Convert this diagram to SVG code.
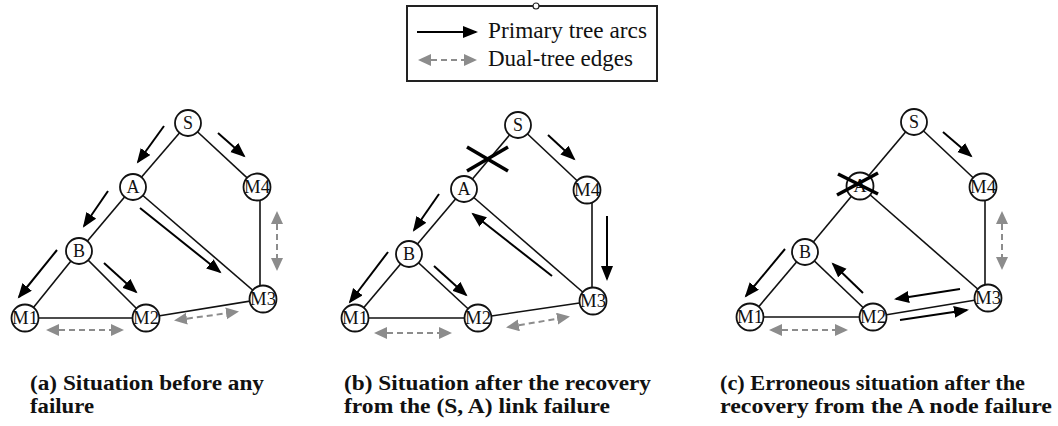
<svg xmlns="http://www.w3.org/2000/svg" width="1058" height="426" viewBox="0 0 1058 426">
<style>
.edge{stroke:#111;stroke-width:1.6;fill:none}
.node circle{fill:#fff;stroke:#111;stroke-width:1.8}
.node text{font-family:"Liberation Serif","Times New Roman",serif;font-size:18px;fill:#111;text-anchor:middle}
.arc{stroke:#000;stroke-width:2;fill:none;marker-end:url(#ah)}
.dual{stroke:#8c8c8c;stroke-width:2;stroke-dasharray:6 4;fill:none;marker-start:url(#gh);marker-end:url(#gh)}
.cross{stroke:#000;stroke-width:3.5;stroke-linecap:butt}
.cap{font-family:"Liberation Serif","Times New Roman",serif;font-weight:bold;font-size:20px;fill:#111}
.leg{font-family:"Liberation Serif","Times New Roman",serif;font-size:23px;fill:#111}
</style>
<defs>
<marker id="ah" markerUnits="userSpaceOnUse" markerWidth="16" markerHeight="13" refX="13" refY="6" orient="auto">
<path d="M0,0 L15,6 L0,12 z" fill="#000"/>
</marker>
<marker id="gh" markerUnits="userSpaceOnUse" markerWidth="14" markerHeight="13" refX="10" refY="6" orient="auto-start-reverse">
<path d="M0,0 L13,6 L0,12 z" fill="#8c8c8c"/>
</marker>
</defs>
<rect width="1058" height="426" fill="#fff"/>

<g id="legend">
<rect x="407" y="6" width="250" height="75" fill="#fff" stroke="#222" stroke-width="2"/>
<circle cx="536" cy="6" r="3" fill="#fff" stroke="#222" stroke-width="1.2"/>
<line class="arc" x1="417" y1="32" x2="476" y2="32"/>
<line class="dual" x1="421" y1="60" x2="474" y2="60"/>
<text class="leg" x="488" y="38" textLength="159" lengthAdjust="spacingAndGlyphs">Primary tree arcs</text>
<text class="leg" x="488" y="66" textLength="145" lengthAdjust="spacingAndGlyphs">Dual-tree edges</text>
</g>

<g id="connectors">
<!-- panel a edges -->
<line class="edge" x1="188" y1="123" x2="133" y2="187"/>
<line class="edge" x1="188" y1="123" x2="257" y2="187"/>
<line class="edge" x1="133" y1="187" x2="79" y2="251"/>
<line class="edge" x1="133" y1="187" x2="263" y2="299"/>
<line class="edge" x1="260" y1="190" x2="260" y2="299"/>
<line class="edge" x1="79" y1="251" x2="25" y2="318"/>
<line class="edge" x1="79" y1="251" x2="146" y2="318"/>
<line class="edge" x1="25" y1="318" x2="146" y2="318"/>
<line class="edge" x1="146" y1="318" x2="263" y2="299"/>
<!-- panel a arcs -->
<line class="arc" x1="164" y1="126" x2="138" y2="162"/>
<line class="arc" x1="218" y1="133" x2="244" y2="156"/>
<line class="arc" x1="108" y1="191" x2="84" y2="226"/>
<line class="arc" x1="140" y1="208" x2="220" y2="272"/>
<line class="arc" x1="57" y1="250" x2="19" y2="297"/>
<line class="arc" x1="104" y1="263" x2="136" y2="292"/>
<line class="dual" x1="49" y1="330" x2="121" y2="330"/>
<line class="dual" x1="177" y1="320" x2="236" y2="312"/>
<line class="dual" x1="277" y1="214" x2="277" y2="268"/>

<!-- panel b edges -->
<line class="edge" x1="518" y1="125" x2="464" y2="189"/>
<line class="edge" x1="518" y1="125" x2="587" y2="190"/>
<line class="edge" x1="464" y1="189" x2="409" y2="254"/>
<line class="edge" x1="464" y1="189" x2="593" y2="301"/>
<line class="edge" x1="592" y1="192" x2="592" y2="301"/>
<line class="edge" x1="409" y1="254" x2="355" y2="318"/>
<line class="edge" x1="409" y1="254" x2="478" y2="318"/>
<line class="edge" x1="355" y1="318" x2="478" y2="318"/>
<line class="edge" x1="478" y1="318" x2="593" y2="301"/>
<!-- panel b arcs -->
<line class="arc" x1="548" y1="135" x2="574" y2="159"/>
<line class="arc" x1="439" y1="194" x2="414" y2="230"/>
<line class="arc" x1="552" y1="276" x2="473" y2="214"/>
<line class="arc" x1="607" y1="216" x2="607" y2="279"/>
<line class="arc" x1="388" y1="252" x2="350" y2="302"/>
<line class="arc" x1="434" y1="266" x2="466" y2="295"/>
<line class="dual" x1="377" y1="333" x2="449" y2="333"/>
<line class="dual" x1="509" y1="327" x2="567" y2="317"/>

<!-- panel c edges -->
<line class="edge" x1="914" y1="122" x2="860" y2="186"/>
<line class="edge" x1="914" y1="122" x2="983" y2="187"/>
<line class="edge" x1="860" y1="186" x2="805" y2="252"/>
<line class="edge" x1="860" y1="186" x2="988" y2="298"/>
<line class="edge" x1="985" y1="189" x2="985" y2="298"/>
<line class="edge" x1="805" y1="252" x2="750" y2="317"/>
<line class="edge" x1="805" y1="252" x2="873" y2="317"/>
<line class="edge" x1="750" y1="317" x2="873" y2="317"/>
<line class="edge" x1="873" y1="317" x2="988" y2="298"/>
<!-- panel c arcs -->
<line class="arc" x1="943" y1="132" x2="971" y2="156"/>
<line class="arc" x1="785" y1="249" x2="746" y2="296"/>
<line class="arc" x1="863" y1="293" x2="833" y2="264"/>
<line class="arc" x1="960" y1="289" x2="896" y2="299"/>
<line class="arc" x1="900" y1="320" x2="967" y2="310"/>
<line class="dual" x1="1002" y1="214" x2="1002" y2="267"/>
<line class="dual" x1="772" y1="330" x2="845" y2="330"/>
</g>

<!-- panel a nodes -->
<g id="a-S" class="node"><circle cx="188" cy="123" r="13"/><text x="188" y="129">S</text></g>
<g id="a-A" class="node"><circle cx="133" cy="187" r="13"/><text x="133" y="193">A</text></g>
<g id="a-M4" class="node"><circle cx="257" cy="187" r="13.5"/><text x="257" y="193" textLength="26" lengthAdjust="spacingAndGlyphs">M4</text></g>
<g id="a-B" class="node"><circle cx="79" cy="251" r="13"/><text x="79" y="257">B</text></g>
<g id="a-M1" class="node"><circle cx="25" cy="318" r="13.5"/><text x="25" y="324" textLength="26" lengthAdjust="spacingAndGlyphs">M1</text></g>
<g id="a-M2" class="node"><circle cx="146" cy="318" r="13.5"/><text x="146" y="324" textLength="26" lengthAdjust="spacingAndGlyphs">M2</text></g>
<g id="a-M3" class="node"><circle cx="263" cy="299" r="13.5"/><text x="263" y="305" textLength="26" lengthAdjust="spacingAndGlyphs">M3</text></g>

<!-- panel b nodes -->
<g id="b-S" class="node"><circle cx="518" cy="125" r="13"/><text x="518" y="131">S</text></g>
<g id="b-A" class="node"><circle cx="464" cy="189" r="13"/><text x="464" y="195">A</text></g>
<g id="b-M4" class="node"><circle cx="587" cy="190" r="13.5"/><text x="587" y="196" textLength="26" lengthAdjust="spacingAndGlyphs">M4</text></g>
<g id="b-B" class="node"><circle cx="409" cy="254" r="13"/><text x="409" y="260">B</text></g>
<g id="b-M1" class="node"><circle cx="355" cy="318" r="13.5"/><text x="355" y="324" textLength="26" lengthAdjust="spacingAndGlyphs">M1</text></g>
<g id="b-M2" class="node"><circle cx="478" cy="318" r="13.5"/><text x="478" y="324" textLength="26" lengthAdjust="spacingAndGlyphs">M2</text></g>
<g id="b-M3" class="node"><circle cx="593" cy="301" r="13.5"/><text x="593" y="307" textLength="26" lengthAdjust="spacingAndGlyphs">M3</text></g>
<g id="b-cross"><line class="cross" x1="467" y1="147" x2="508" y2="171"/><line class="cross" x1="467" y1="171" x2="508" y2="147"/></g>

<!-- panel c nodes -->
<g id="c-S" class="node"><circle cx="914" cy="122" r="13"/><text x="914" y="128">S</text></g>
<g id="c-A" class="node"><circle cx="860" cy="186" r="13.5"/><text x="860" y="192">A</text></g>
<g id="c-M4" class="node"><circle cx="983" cy="187" r="13.5"/><text x="983" y="193" textLength="26" lengthAdjust="spacingAndGlyphs">M4</text></g>
<g id="c-B" class="node"><circle cx="805" cy="252" r="13"/><text x="805" y="258">B</text></g>
<g id="c-M1" class="node"><circle cx="750" cy="317" r="13.5"/><text x="750" y="323" textLength="26" lengthAdjust="spacingAndGlyphs">M1</text></g>
<g id="c-M2" class="node"><circle cx="873" cy="317" r="13.5"/><text x="873" y="323" textLength="26" lengthAdjust="spacingAndGlyphs">M2</text></g>
<g id="c-M3" class="node"><circle cx="988" cy="298" r="13.5"/><text x="988" y="304" textLength="26" lengthAdjust="spacingAndGlyphs">M3</text></g>
<g id="c-cross"><line class="cross" x1="838" y1="174" x2="878" y2="194"/><line class="cross" x1="837" y1="195" x2="878" y2="173"/></g>

<g id="captions">
<text class="cap" x="30" y="390" textLength="234" lengthAdjust="spacingAndGlyphs">(a) Situation before any</text>
<text class="cap" x="30" y="413" textLength="64" lengthAdjust="spacingAndGlyphs">failure</text>
<text class="cap" x="344" y="390" textLength="307" lengthAdjust="spacingAndGlyphs">(b) Situation after the recovery</text>
<text class="cap" x="344" y="413" textLength="266" lengthAdjust="spacingAndGlyphs">from the (S, A) link failure</text>
<text class="cap" x="720" y="390" textLength="305" lengthAdjust="spacingAndGlyphs">(c) Erroneous situation after the</text>
<text class="cap" x="720" y="413" textLength="332" lengthAdjust="spacingAndGlyphs">recovery from the A node failure</text>
</g>
</svg>
